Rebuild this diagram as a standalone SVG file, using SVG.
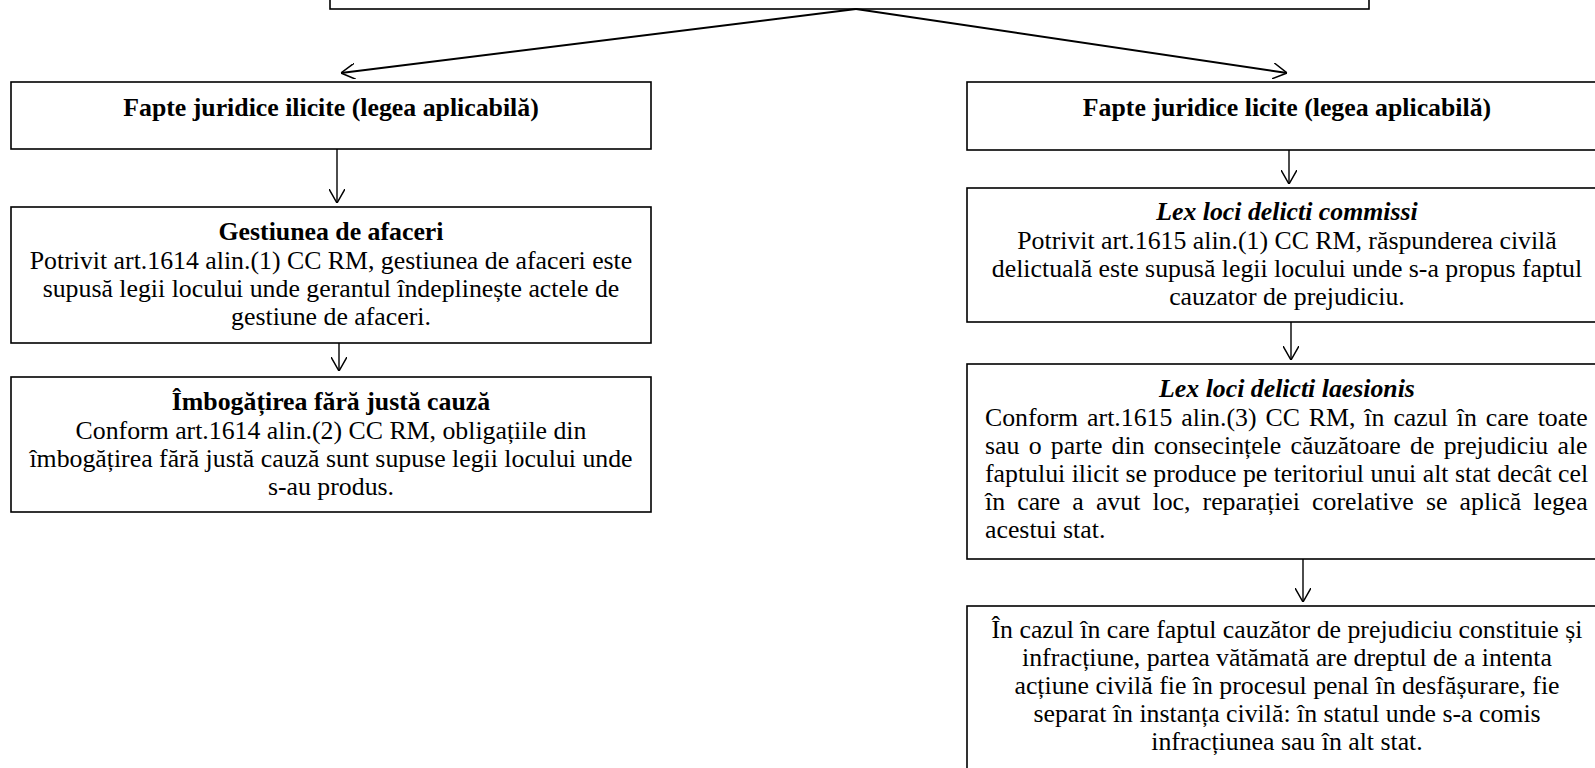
<svg xmlns="http://www.w3.org/2000/svg" width="1595" height="768" viewBox="0 0 1595 768">
<style>
.box{fill:#fff;stroke:#000;stroke-width:1.6}
.t{font-family:"Liberation Serif","Times New Roman",serif;font-size:25.8px;fill:#000}
.c{text-anchor:middle}
.b{font-weight:bold}
.bi{font-weight:bold;font-style:italic}
.con{stroke:#000;fill:none}
</style>
<defs>
<marker id="ah" viewBox="0 0 14 16" refX="14" refY="8" markerWidth="14" markerHeight="16" markerUnits="userSpaceOnUse" orient="auto">
<path d="M0,0 L14,8 L0,16" fill="none" stroke="#000" stroke-width="1.5"/>
</marker>
</defs>
<rect width="1595" height="768" fill="#fff"/>
<g id="top">
<rect class="box" x="330" y="-30" width="1039" height="39"/>
</g>
<g id="ilicite">
<rect class="box" x="11" y="82" width="640" height="67"/>
<text class="t c b" x="331" y="116">Fapte juridice ilicite (legea aplicabilă)</text>
</g>
<g id="gestiunea">
<rect class="box" x="11" y="207" width="640" height="136"/>
<text class="t c b" x="331" y="240">Gestiunea de afaceri</text>
<text class="t c" x="331" y="269">Potrivit art.1614 alin.(1) CC RM, gestiunea de afaceri este</text>
<text class="t c" x="331" y="297">supusă legii locului unde gerantul îndeplinește actele de</text>
<text class="t c" x="331" y="325">gestiune de afaceri.</text>
</g>
<g id="imbogatirea">
<rect class="box" x="11" y="377" width="640" height="135"/>
<text class="t c b" x="331" y="410">Îmbogățirea fără justă cauză</text>
<text class="t c" x="331" y="439">Conform art.1614 alin.(2) CC RM, obligațiile din</text>
<text class="t c" x="331" y="467">îmbogățirea fără justă cauză sunt supuse legii locului unde</text>
<text class="t c" x="331" y="495">s-au produs.</text>
</g>
<g id="licite">
<rect class="box" x="967" y="82" width="640" height="68"/>
<text class="t c b" x="1287" y="116">Fapte juridice licite (legea aplicabilă)</text>
</g>
<g id="commissi">
<rect class="box" x="967" y="188" width="640" height="134"/>
<text class="t c bi" x="1287" y="220">Lex loci delicti commissi</text>
<text class="t c" x="1287" y="249">Potrivit art.1615 alin.(1) CC RM, răspunderea civilă</text>
<text class="t c" x="1287" y="277">delictuală este supusă legii locului unde s-a propus faptul</text>
<text class="t c" x="1287" y="305">cauzator de prejudiciu.</text>
</g>
<g id="laesionis">
<rect class="box" x="967" y="364" width="640" height="195"/>
<text class="t c bi" x="1287" y="397">Lex loci delicti laesionis</text>
<text class="t" x="985" y="426" word-spacing="2.5">Conform art.1615 alin.(3) CC RM, în cazul în care toate</text>
<text class="t" x="985" y="454" word-spacing="2.8">sau o parte din consecințele căuzătoare de prejudiciu ale</text>
<text class="t" x="985" y="482">faptului ilicit se produce pe teritoriul unui alt stat decât cel</text>
<text class="t" x="985" y="510" word-spacing="5.7">în care a avut loc, reparației corelative se aplică legea</text>
<text class="t" x="985" y="538">acestui stat.</text>
</g>
<g id="infractiune">
<rect class="box" x="967" y="606" width="640" height="200"/>
<text class="t c" x="1287" y="638">În cazul în care faptul cauzător de prejudiciu constituie și</text>
<text class="t c" x="1287" y="666">infracțiune, partea vătămată are dreptul de a intenta</text>
<text class="t c" x="1287" y="694">acțiune civilă fie în procesul penal în desfășurare, fie</text>
<text class="t c" x="1287" y="722">separat în instanța civilă: în statul unde s-a comis</text>
<text class="t c" x="1287" y="750">infracțiunea sau în alt stat.</text>
</g>
<g id="connectors">
<line class="con" x1="856" y1="9" x2="341" y2="73" stroke-width="2" marker-end="url(#ah)"/>
<line class="con" x1="856" y1="9" x2="1287" y2="73" stroke-width="2" marker-end="url(#ah)"/>
<line class="con" x1="337" y1="149" x2="337" y2="203" stroke-width="1.4" marker-end="url(#ah)"/>
<line class="con" x1="339" y1="343" x2="339" y2="371" stroke-width="1.4" marker-end="url(#ah)"/>
<line class="con" x1="1289" y1="150" x2="1289" y2="184" stroke-width="1.4" marker-end="url(#ah)"/>
<line class="con" x1="1291" y1="322" x2="1291" y2="360" stroke-width="1.4" marker-end="url(#ah)"/>
<line class="con" x1="1303" y1="559" x2="1303" y2="602" stroke-width="1.4" marker-end="url(#ah)"/>
</g>
</svg>
